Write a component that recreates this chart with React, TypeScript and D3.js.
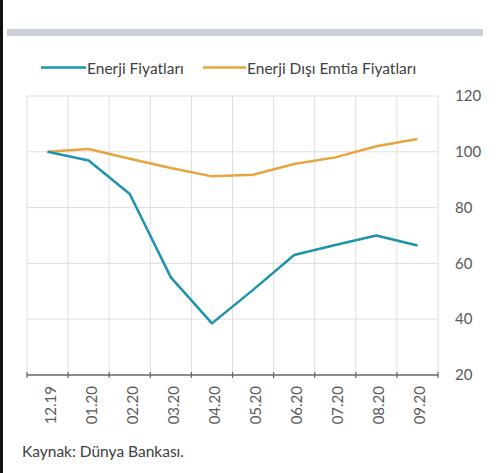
import React from "react";
import * as d3 from "d3";

const categories = ["12.19", "01.20", "02.20", "03.20", "04.20", "05.20", "06.20", "07.20", "08.20", "09.20"];
const energy = [100, 96.9, 84.9, 55, 38.5, 50.5, 63, 66.6, 70, 66.4];
const nonEnergy = [100, 101, 97.5, 94.2, 91.2, 91.8, 95.6, 98, 102, 104.6];
const yTicks = [20, 40, 60, 80, 100, 120];
const seriesNames = ["Enerji Fiyatları", "Enerji Dışı Emtia Fiyatları"];
const source = "Kaynak: Dünya Bankası.";

const W = 499, H = 473;
const L = 27, R = 438, T = 96, B = 375;
const FONT = "Lato, 'Noto Sans', sans-serif";
const BLUE = "#1e93ab";
const ORANGE = "#e7a43f";

export default function App() {
  const x = d3.scaleBand<string>().domain(categories).range([L, R]);
  const y = d3.scaleLinear().domain([20, 120]).range([B, T]);
  const cx = (c: string) => (x(c) as number) + x.bandwidth() / 2;
  const line = d3.line<number>().x((_, i) => cx(categories[i])).y((d) => y(d));
  const bounds = categories.map((c) => x(c) as number).concat([R]);

  return (
    <svg width={W} height={H} style={{ position: "absolute", left: 0, top: 0, background: "#fff" }} fontFamily={FONT}>
      <rect x={0} y={0} width={3} height={H} fill="#111" />
      <rect x={7} y={29} width={476} height={7} fill="#c9ced7" />
      {/* legend */}
      <line x1={41} x2={86} y1={67.5} y2={67.5} stroke={BLUE} strokeWidth={2.5} />
      <text x={87} y={73.5} fontSize={15.5} fill="#404040">{seriesNames[0]}</text>
      <line x1={203} x2={246} y1={67.5} y2={67.5} stroke={ORANGE} strokeWidth={2.5} />
      <text x={247} y={73.5} fontSize={15.5} fill="#404040">{seriesNames[1]}</text>
      {/* grid */}
      {yTicks.slice(1).map((t) => (
        <line key={t} x1={L} x2={R} y1={y(t)} y2={y(t)} stroke="#dedede" strokeWidth={1} />
      ))}
      {bounds.map((b, i) => (
        <line key={i} x1={b} x2={b} y1={T} y2={B} stroke="#dedede" strokeWidth={1} />
      ))}
      {/* axis */}
      <line x1={L} x2={R} y1={B} y2={B} stroke="#666" strokeWidth={1.5} />
      {bounds.map((b, i) => (
        <line key={i} x1={b} x2={b} y1={B - 3} y2={B + 3} stroke="#666" strokeWidth={1.2} />
      ))}
      {yTicks.map((t) => (
        <text key={t} x={455} y={y(t)} dy="0.35em" fontSize={15} fill="#595959">{t}</text>
      ))}
      {categories.map((c) => (
        <text key={c} transform={`translate(${cx(c) + 8},386) rotate(-90)`} textAnchor="end" fontSize={15} fill="#595959">{c}</text>
      ))}
      {/* series */}
      <path d={line(nonEnergy) || ""} fill="none" stroke={ORANGE} strokeWidth={2.5} strokeLinejoin="round" />
      <path d={line(energy) || ""} fill="none" stroke={BLUE} strokeWidth={2.5} strokeLinejoin="round" />
      <text x={22} y={457} fontSize={15.5} fill="#404040">{source}</text>
    </svg>
  );
}
